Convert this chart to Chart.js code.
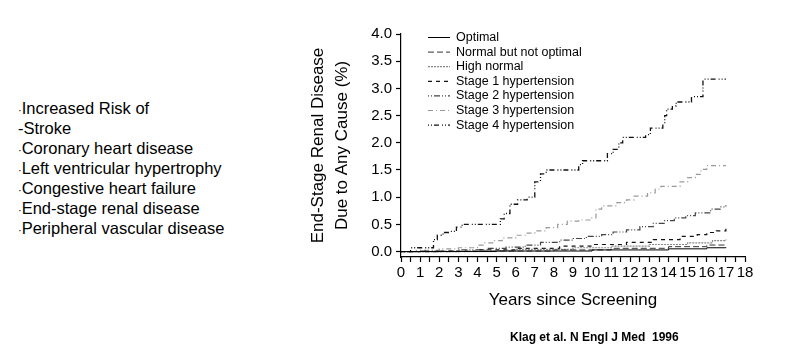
<!DOCTYPE html>
<html>
<head>
<meta charset="utf-8">
<title>End-stage renal disease by blood pressure category</title>
<script src="https://cdn.jsdelivr.net/npm/chart.js@4.4.1/dist/chart.umd.min.js"></script>
<style>
  html, body { margin: 0; padding: 0; background: #fff; }
  body { width: 790px; height: 351px; position: relative; overflow: hidden;
         font-family: "Liberation Sans", Arial, sans-serif; color: #000; }
  #chart { position: absolute; left: 0; top: 0; }
  #risk { position: absolute; left: 18px; top: 98px; font-size: 16.5px; line-height: 20px; }
  #risk div { height: 20px; white-space: nowrap; }
  #risk .dot { font-size: 11px; line-height: 0; }
  #cite { position: absolute; left: 510px; top: 330px; font-size: 12px; font-weight: bold; white-space: pre; }
</style>
</head>
<body>
<div id="risk">
  <div><span class="dot">·</span>Increased Risk of</div>
  <div>-Stroke</div>
  <div><span class="dot">·</span>Coronary heart disease</div>
  <div><span class="dot">·</span>Left ventricular hypertrophy</div>
  <div><span class="dot">·</span>Congestive heart failure</div>
  <div><span class="dot">·</span>End-stage renal disease</div>
  <div><span class="dot">·</span>Peripheral vascular disease</div>
</div>
<canvas id="chart" width="790" height="351"></canvas>
<div id="cite">Klag et al. N Engl J Med  1996</div>

<script>
// series labels (legend order)
const seriesLabels = [
  "Optimal",
  "Normal but not optimal",
  "High normal",
  "Stage 1 hypertension",
  "Stage 2 hypertension",
  "Stage 3 hypertension",
  "Stage 4 hypertension"
];

// cumulative incidence (%) — step points: year where the step lands, new level
const optimalYears = [0, 5, 10, 14, 16, 17];
const optimalRisk  = [0, 0.01, 0.03, 0.05, 0.07, 0.08];

const normalYears = [0, 4, 8, 11, 14, 16, 17];
const normalRisk  = [0, 0.01, 0.03, 0.06, 0.09, 0.12, 0.13];

const highNormalYears = [0, 3, 6, 9, 11, 13, 15, 16.3, 17];
const highNormalRisk  = [0, 0.01, 0.04, 0.07, 0.10, 0.13, 0.16, 0.20, 0.22];

const stage1Years = [0, 2, 4, 6, 8.3, 10, 11.8, 13.2, 14.6, 15.5, 16, 16.5, 17];
const stage1Risk  = [0, 0.01, 0.03, 0.06, 0.10, 0.13, 0.17, 0.22, 0.28, 0.31, 0.35, 0.38, 0.42];

const stage2Years = [0, 1, 3, 4.5, 5.5, 6.5, 7.3, 8.3, 9, 9.7, 10.5, 11.1, 11.8, 12.5, 13.2, 13.8, 14.3, 14.9, 15.4, 16.2, 16.7, 17];
const stage2Risk  = [0, 0.01, 0.03, 0.06, 0.08, 0.12, 0.17, 0.21, 0.24, 0.28, 0.31, 0.36, 0.40, 0.46, 0.52, 0.57, 0.62, 0.66, 0.71, 0.78, 0.82, 0.85];

const stage3Years = [0, 0.8, 2, 3, 4, 4.3, 4.8, 5.3, 6, 6.5, 7, 7.6, 8.2, 8.7, 9.3, 9.9, 10.2, 10.5, 11.3, 11.8, 12.2, 12.9, 13.3, 13.6, 14.6, 15, 15.4, 15.7, 16, 17];
const stage3Risk  = [0, 0.02, 0.05, 0.07, 0.12, 0.16, 0.20, 0.25, 0.30, 0.34, 0.38, 0.44, 0.50, 0.56, 0.58, 0.62, 0.78, 0.84, 0.90, 0.95, 1.02, 1.08, 1.15, 1.20, 1.28, 1.36, 1.42, 1.51, 1.58, 1.58];

const stage4Years = [0, 0.5, 1.7, 1.9, 2.2, 2.6, 2.9, 3.2, 5.2, 5.4, 5.7, 6.1, 6.6, 7.0, 7.3, 7.6, 9.3, 9.5, 10.8, 11.1, 11.4, 11.6, 12.8, 13.05, 13.7, 13.8, 13.9, 14.2, 14.4, 15.2, 15.8, 17];
const stage4Risk  = [0, 0.07, 0.22, 0.30, 0.35, 0.37, 0.45, 0.50, 0.60, 0.70, 0.87, 0.95, 1.00, 1.28, 1.43, 1.50, 1.60, 1.67, 1.80, 1.88, 2.00, 2.10, 2.15, 2.27, 2.35, 2.50, 2.62, 2.68, 2.75, 2.85, 3.17, 3.17];

// axis ticks
const xTickValues = [0, 0.5, 1, 1.5, 2, 2.5, 3, 3.5, 4, 4.5, 5, 5.5, 6, 6.5, 7, 7.5, 8, 8.5, 9, 9.5,
                     10, 10.5, 11, 11.5, 12, 12.5, 13, 13.5, 14, 14.5, 15, 15.5, 16, 16.5, 17, 17.5, 18];
const yTickValues = [0, 0.25, 0.5, 0.75, 1, 1.25, 1.5, 1.75, 2, 2.25, 2.5, 2.75, 3, 3.25, 3.5, 3.75, 4];

const seriesYears = [optimalYears, normalYears, highNormalYears, stage1Years, stage2Years, stage3Years, stage4Years];
const seriesRisk  = [optimalRisk, normalRisk, highNormalRisk, stage1Risk, stage2Risk, stage3Risk, stage4Risk];

// line looks, one per series
const lineColors = ["#000", "#333", "#888", "#111", "#444", "#999", "#111"];
const lineDashes = [[], [6, 3], [2, 1], [4, 4], [1, 2, 1, 2, 6, 2], [5, 3, 1, 3], [1, 2, 1, 2, 5, 3]];
const lineWidths = [1, 1, 1.2, 1.2, 1.2, 1.2, 1.3];

const FONT = '"Liberation Sans", Arial, sans-serif';

function toPoints(xs, ys) {
  return xs.map((x, i) => ({ x: x, y: ys[i] }));
}

const datasets = seriesLabels.map((label, i) => ({
  label: label,
  data: toPoints(seriesYears[i], seriesRisk[i]),
  stepped: true,
  borderColor: lineColors[i],
  borderDash: lineDashes[i],
  borderWidth: lineWidths[i],
  pointRadius: 0,
  fill: false
}));

// legend drawn inside the plot, upper left
const insideLegend = {
  id: "insideLegend",
  afterDatasetsDraw(chart) {
    const { ctx, chartArea } = chart;
    const x0 = chartArea.left + 27;
    const y0 = chartArea.top + 3.5;
    ctx.save();
    ctx.font = "12.5px " + FONT;
    ctx.textBaseline = "middle";
    chart.data.datasets.forEach((ds, i) => {
      const y = y0 + i * 14.6;
      ctx.strokeStyle = ds.borderColor;
      ctx.lineWidth = ds.borderWidth;
      ctx.setLineDash(ds.borderDash);
      ctx.beginPath();
      ctx.moveTo(x0, y);
      ctx.lineTo(x0 + 22, y);
      ctx.stroke();
      ctx.fillStyle = "#000";
      ctx.fillText(ds.label, x0 + 28, y);
    });
    ctx.restore();
  }
};

new Chart(document.getElementById("chart"), {
  type: "line",
  data: { datasets },
  options: {
    responsive: false,
    animation: false,
    layout: { padding: { left: 290, right: 45, top: 34, bottom: 34 } },
    plugins: { legend: { display: false }, tooltip: { enabled: false } },
    scales: {
      x: {
        type: "linear",
        min: 0,
        max: 18,
        afterBuildTicks: (scale) => { scale.ticks = xTickValues.map(v => ({ value: v })); },
        afterFit: (scale) => { scale.height = 60; },
        ticks: {
          autoSkip: false,
          maxRotation: 0,
          padding: 2,
          color: "#000",
          font: { family: FONT, size: 15 },
          callback: (v) => (Number.isInteger(v) ? String(v) : "")
        },
        grid: { drawOnChartArea: false, tickLength: 5, color: "#000", tickWidth: 1.2 },
        border: { color: "#000", width: 1.2 },
        title: {
          display: true,
          text: "Years since Screening",
          color: "#000",
          font: { family: FONT, size: 17 },
          padding: { top: 0, bottom: 6 }
        }
      },
      y: {
        type: "linear",
        min: -0.1,
        max: 4,
        afterBuildTicks: (scale) => { scale.ticks = yTickValues.map(v => ({ value: v })); },
        afterFit: (scale) => { scale.width = 111; },
        ticks: {
          padding: 4,
          color: "#000",
          font: { family: FONT, size: 15 },
          callback: (v) => (v % 0.5 === 0 ? v.toFixed(1) : "")
        },
        grid: { drawOnChartArea: false, tickLength: 5, color: "#000", tickWidth: 1.2 },
        border: { color: "#000", width: 1.2 },
        title: {
          display: true,
          text: ["End-Stage Renal Disease", "Due to Any Cause (%)"],
          color: "#000",
          font: { family: FONT, size: 17, lineHeight: "24px" },
          padding: { top: 16, bottom: 0 }
        }
      }
    }
  },
  plugins: [insideLegend]
});
</script>
</body>
</html>
